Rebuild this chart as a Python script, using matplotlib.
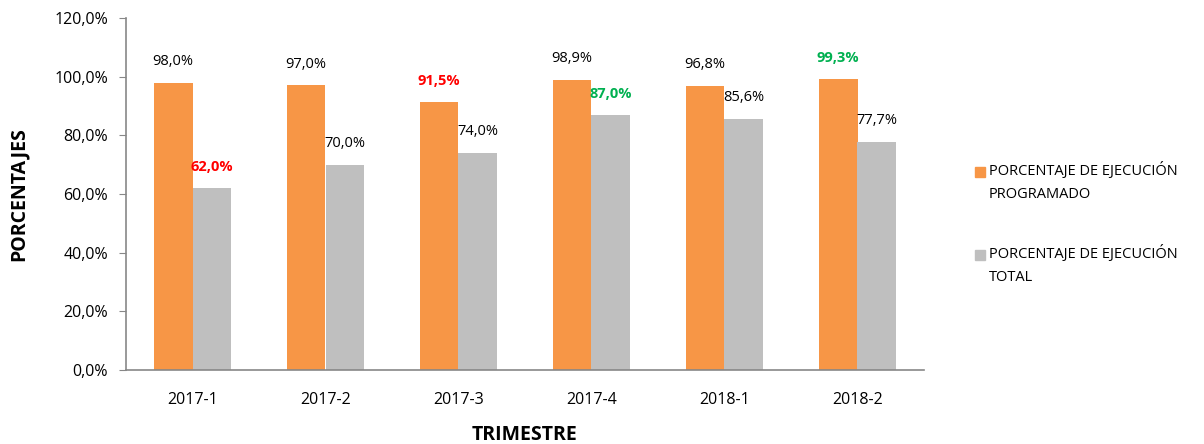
import matplotlib
matplotlib.use("Agg")
import matplotlib.pyplot as plt
import numpy as np
from matplotlib.patches import Rectangle

categories = ["2017-1", "2017-2", "2017-3", "2017-4", "2018-1", "2018-2"]
programado = [98.0, 97.0, 91.5, 98.9, 96.8, 99.3]
total = [62.0, 70.0, 74.0, 87.0, 85.6, 77.7]
prog_label_colors = ["black", "black", "#FF0000", "black", "black", "#00B050"]
total_label_colors = ["#FF0000", "black", "black", "#00B050", "black", "black"]
yticks = [0, 20, 40, 60, 80, 100, 120]
series_names = ["PORCENTAJE DE EJECUCIÓN\nPROGRAMADO", "PORCENTAJE DE EJECUCIÓN\nTOTAL"]

ORANGE = "#F79646"
GRAY = "#BFBFBF"
FONT = ["Open Sans", "DejaVu Sans"]
plt.rcParams["font.family"] = FONT

fig = plt.figure(figsize=(12.04, 4.44), dpi=100)
ax = fig.add_axes([126/1204, 74/444, (924-126)/1204, (370-18)/444])

x = np.arange(len(categories))
w = 0.29
b1 = ax.bar(x - w/2, programado, w, color=ORANGE)
b2 = ax.bar(x + w/2, total, w, color=GRAY)

def fmt(v):
    return f"{v:.1f}%".replace(".", ",")

for xi, v, c in zip(x, programado, prog_label_colors):
    bold = c != "black"
    ax.annotate(fmt(v), (xi - w/2, v), xytext=(0, 10), textcoords="offset points",
                ha="center", va="bottom", fontsize=10.5, color=c,
                fontweight="bold" if bold else "normal")
for xi, v, c in zip(x, total, total_label_colors):
    bold = c != "black"
    ax.annotate(fmt(v), (xi + w/2, v), xytext=(0, 10), textcoords="offset points",
                ha="center", va="bottom", fontsize=10.5, color=c,
                fontweight="bold" if bold else "normal")

ax.set_xlim(-0.5, len(categories) - 0.5)
ax.set_ylim(0, 120)
ax.set_yticks(yticks)
ax.set_yticklabels([f"{t:.1f}%".replace(".", ",") for t in yticks], fontsize=11.5)
ax.set_xticks(x)
ax.set_xticklabels(categories, fontsize=11.5)
ax.tick_params(axis="x", length=0, pad=16)
ax.tick_params(axis="y", length=5, color="#878787", pad=8)
for s in ["top", "right"]:
    ax.spines[s].set_visible(False)
for s in ["left", "bottom"]:
    ax.spines[s].set_color("#878787")
    ax.spines[s].set_linewidth(1.2)

ax.set_ylabel("PORCENTAJES", fontsize=14, fontweight="bold", labelpad=18)
ax.set_xlabel("TRIMESTRE", fontsize=14, fontweight="bold", labelpad=12)

# Legend (drawn manually so the swatch aligns with the first text line)
W, H = 1204, 444
for color, name, ymid in zip([ORANGE, GRAY], series_names, [172, 255]):
    fig.patches.append(Rectangle((975/W, 1 - (ymid + 5)/H), 10/W, 10/H,
                                 transform=fig.transFigure, color=color))
    fig.text(989/W, 1 - (ymid - 10)/H, name, fontsize=10.5, va="top", ha="left",
             linespacing=1.75, transform=fig.transFigure)

fig.savefig("out.png", dpi=100)
